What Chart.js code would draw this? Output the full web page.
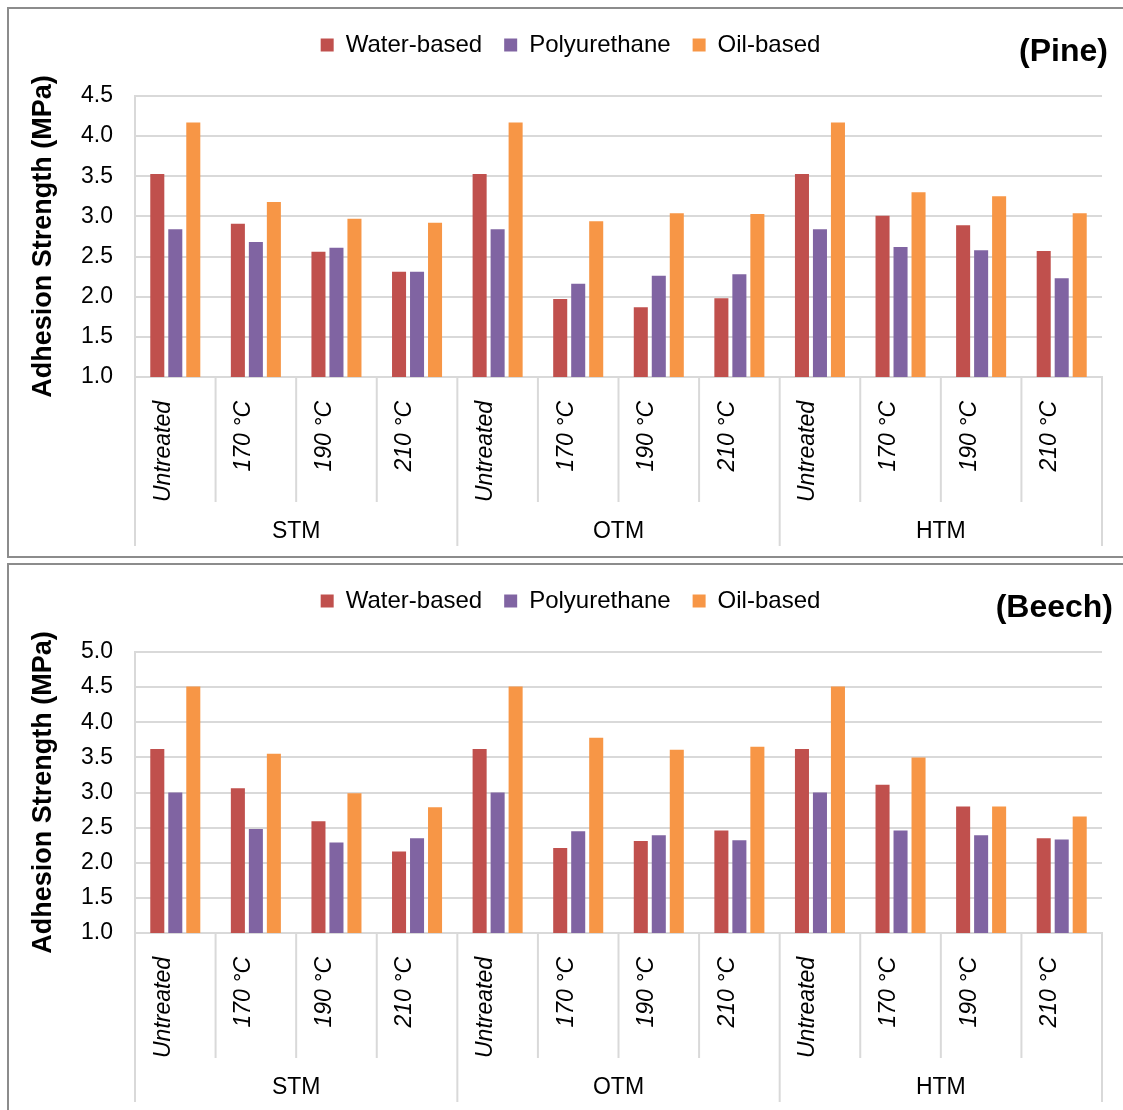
<!DOCTYPE html>
<html lang="en">
<head>
<meta charset="UTF-8">
<title>Adhesion strength - Pine and Beech</title>
<script src="https://cdn.jsdelivr.net/npm/chart.js"></script>
<style>
  body { margin: 0; background: #fff; }
  .panel { position: absolute; left: 7px; width: 1130px; border: 2px solid #8c8c8c; background: #fff; }
  #pinePanel { top: 7px; height: 547px; }
  #beechPanel { top: 563px; height: 560px; }
  canvas { display: block; }
</style>
</head>
<body>
  <div class="panel" id="pinePanel"><canvas id="pineChart" width="1114" height="547"></canvas></div>
  <div class="panel" id="beechPanel"><canvas id="beechChart" width="1114" height="547"></canvas></div>

<script>
// categories
const groups = ['STM', 'OTM', 'HTM'];
const treatments = ['Untreated', '170 °C', '190 °C', '210 °C'];
const seriesNames = ['Water-based', 'Polyurethane', 'Oil-based'];

// Pine values (MPa)
const pineWater = [3.53, 2.91, 2.56, 2.31, 3.53, 1.97, 1.87, 1.98, 3.53, 3.01, 2.89, 2.57];
const pinePoly  = [2.84, 2.68, 2.61, 2.31, 2.84, 2.16, 2.26, 2.28, 2.84, 2.62, 2.58, 2.23];
const pineOil   = [4.17, 3.18, 2.97, 2.92, 4.17, 2.94, 3.04, 3.03, 4.17, 3.30, 3.25, 3.04];

// Beech values (MPa)
const beechWater = [3.62, 3.06, 2.59, 2.16, 3.62, 2.21, 2.31, 2.46, 3.62, 3.11, 2.80, 2.35];
const beechPoly  = [3.00, 2.48, 2.29, 2.35, 3.00, 2.45, 2.39, 2.32, 3.00, 2.46, 2.39, 2.33];
const beechOil   = [4.51, 3.55, 2.99, 2.79, 4.51, 3.78, 3.61, 3.65, 4.51, 3.50, 2.80, 2.66];

// y axis ranges
const pineYTicks = [1.0, 4.5];
const beechYTicks = [1.0, 5.0];

const colors = ['#c0504d', '#8064a2', '#f79646'];
const FONT = "'Liberation Sans', Arial, sans-serif";
Chart.defaults.font.family = FONT;
Chart.defaults.color = '#000';

// one label per bar group, e.g. Untreated ... 210 °C for each method
const labels = [];
groups.forEach(() => treatments.forEach(t => labels.push(t)));

// draws the category separators, method names under them, and the wood title
const groupAxis = {
  id: 'groupAxis',
  afterLayout(chart) {
    // nudge legend to where the original sits
    const lg = chart.legend;
    lg.left += 15; lg.right += 15;
    lg.top -= 29; lg.bottom -= 29;
  },
  afterDraw(chart, args, opts) {
    const ctx = chart.ctx;
    const x = chart.scales.x;
    const area = chart.chartArea;
    const n = labels.length;
    ctx.save();
    ctx.strokeStyle = '#d9d9d9';
    ctx.lineWidth = 2;
    for (let i = 0; i <= n; i++) {
      let px;
      if (i === 0) px = area.left;
      else if (i === n) px = area.right;
      else px = (x.getPixelForValue(i - 1) + x.getPixelForValue(i)) / 2;
      const isGroup = i % treatments.length === 0;
      ctx.beginPath();
      ctx.moveTo(px, area.bottom);
      ctx.lineTo(px, area.bottom + (isGroup ? 169 : 125));
      ctx.stroke();
    }
    ctx.fillStyle = '#000';
    ctx.font = '23px ' + FONT;
    ctx.textAlign = 'center';
    ctx.textBaseline = 'middle';
    groups.forEach((g, k) => {
      const a = x.getPixelForValue(k * treatments.length);
      const b = x.getPixelForValue(k * treatments.length + treatments.length - 1);
      ctx.fillText(g, (a + b) / 2, area.bottom + 155);
    });
    ctx.font = 'bold 32px ' + FONT;
    ctx.textAlign = 'right';
    ctx.fillText(opts.text, opts.right, 43);
    ctx.restore();
  }
};

function makeChart(id, water, poly, oil, yRange, title, titleRight) {
  const ctx = document.getElementById(id).getContext('2d');
  return new Chart(ctx, {
    type: 'bar',
    data: {
      labels: labels,
      datasets: [water, poly, oil].map((d, i) => ({
        label: seriesNames[i],
        data: d,
        backgroundColor: colors[i],
        borderWidth: 0,
        categoryPercentage: 0.67,
        barPercentage: 0.78
      }))
    },
    options: {
      responsive: false,
      animation: false,
      layout: { padding: { top: 31, right: 21, bottom: 10, left: 0 } },
      plugins: {
        legend: {
          position: 'top',
          labels: { boxWidth: 13, boxHeight: 13, padding: 22, font: { size: 24 }, color: '#000' }
        },
        tooltip: { enabled: false },
        groupAxis: { text: title, right: titleRight }
      },
      scales: {
        x: {
          grid: { display: false },
          border: { display: true, color: '#d9d9d9', width: 2 },
          ticks: {
            autoSkip: false, maxRotation: 90, minRotation: 90,
            padding: 16, labelOffset: -12,
            font: { size: 23, style: 'italic' }, color: '#000'
          },
          afterFit(scale) { scale.height = 169; }
        },
        y: {
          min: yRange[0], max: yRange[1],
          ticks: {
            stepSize: 0.5, padding: 22, font: { size: 23 }, color: '#000',
            callback: v => v.toFixed(1)
          },
          grid: { color: '#d9d9d9', lineWidth: 2, drawTicks: false },
          border: { display: true, color: '#d9d9d9', width: 2 },
          title: {
            display: true, text: 'Adhesion Strength (MPa)',
            font: { size: 27, weight: 'bold' }, color: '#000',
            padding: { top: 18, bottom: 0 }
          },
          afterFit(scale) { scale.width = 126; }
        }
      }
    },
    plugins: [groupAxis]
  });
}

makeChart('pineChart', pineWater, pinePoly, pineOil, pineYTicks, '(Pine)', 1099);
makeChart('beechChart', beechWater, beechPoly, beechOil, beechYTicks, '(Beech)', 1104);
</script>
</body>
</html>
